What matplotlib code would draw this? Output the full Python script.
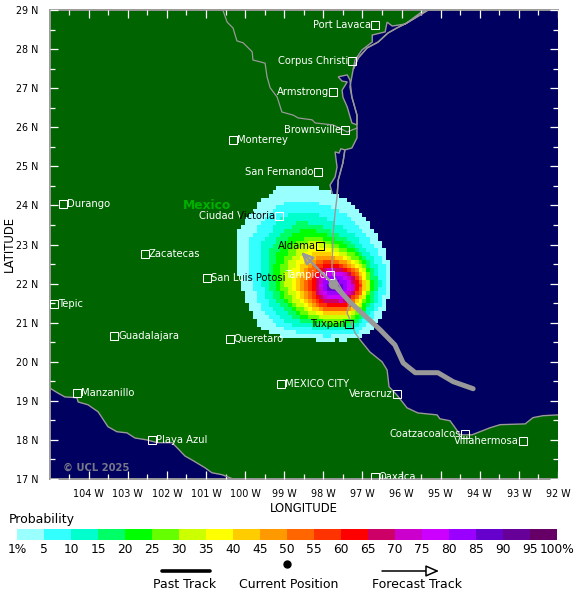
## Storm track probability map
import numpy as np
import matplotlib
matplotlib.use('Agg')
import matplotlib.pyplot as plt
from matplotlib.colors import ListedColormap, BoundaryNorm
from matplotlib.path import Path
from matplotlib.transforms import Bbox, TransformedBbox

## Probability scale
## =========================================== ##
PROB_BOUNDS    = [1, 5, 10, 15, 20, 25, 30, 35, 40, 45, 50, 55, 60, 65, 70, 75, 80, 85, 90, 95, 100]
PROB_LABELS    = ['1%', '5', '10', '15', '20', '25', '30', '35', '40', '45', '50', '55', '60', '65',
                  '70', '75', '80', '85', '90', '95', '100%']
PROB_COLORS    = ['#99ffff', '#33ffff', '#00ffcc', '#00ff66', '#00ff00', '#66ff00', '#ccff00', '#ffff00',
                  '#ffcc00', '#ff9900', '#ff6600', '#ff3300', '#ff0000', '#cc0066', '#cc00cc', '#cc00ff',
                  '#9900ff', '#6600cc', '#660099', '#660066']

## Probability contours, radius in degrees from the centre, read every 30 deg counter clockwise from east
## ====================================================================================================== ##
CONE_CENTER    = (-97.68, 21.89)
CONE_ANGLES    = [0, 30, 60, 90, 120, 150, 180, 210, 240, 270, 300, 330]
CONE_RADII     = {
    1:  [1.38, 1.53, 1.79, 2.43, 2.97, 2.87, 2.38, 2.15, 1.48, 1.33, 1.43, 1.36],
    5:  [1.25, 1.38, 1.53, 2.00, 2.56, 2.51, 2.10, 1.84, 1.33, 1.23, 1.28, 1.20],
    10: [1.13, 1.20, 1.28, 1.66, 2.25, 2.20, 1.87, 1.59, 1.20, 1.13, 1.13, 1.08],
    15: [1.05, 1.08, 1.13, 1.38, 1.94, 1.94, 1.69, 1.38, 1.10, 1.02, 1.02, 0.97],
    20: [0.95, 0.97, 1.02, 1.23, 1.74, 1.74, 1.53, 1.23, 1.00, 0.95, 0.95, 0.90],
    25: [0.90, 0.92, 0.95, 1.10, 1.53, 1.53, 1.41, 1.13, 0.92, 0.87, 0.87, 0.82],
    30: [0.84, 0.87, 0.87, 1.00, 1.38, 1.36, 1.28, 1.02, 0.84, 0.79, 0.82, 0.77],
    35: [0.82, 0.82, 0.79, 0.90, 1.23, 1.20, 1.13, 0.92, 0.77, 0.72, 0.77, 0.72],
    40: [0.77, 0.77, 0.74, 0.82, 1.08, 1.05, 1.00, 0.84, 0.72, 0.67, 0.72, 0.67],
    45: [0.72, 0.72, 0.69, 0.74, 0.95, 0.92, 0.90, 0.77, 0.67, 0.61, 0.67, 0.61],
    50: [0.69, 0.67, 0.64, 0.69, 0.82, 0.82, 0.79, 0.69, 0.61, 0.56, 0.61, 0.59],
    55: [0.64, 0.61, 0.59, 0.64, 0.74, 0.72, 0.69, 0.64, 0.56, 0.51, 0.56, 0.54],
    60: [0.59, 0.56, 0.54, 0.59, 0.67, 0.64, 0.61, 0.56, 0.51, 0.46, 0.51, 0.49],
    65: [0.54, 0.51, 0.49, 0.51, 0.59, 0.56, 0.54, 0.49, 0.44, 0.41, 0.46, 0.44],
    70: [0.46, 0.44, 0.44, 0.46, 0.51, 0.49, 0.46, 0.41, 0.36, 0.33, 0.38, 0.38],
    75: [0.41, 0.38, 0.38, 0.41, 0.44, 0.41, 0.38, 0.33, 0.31, 0.28, 0.33, 0.33],
    80: [0.33, 0.31, 0.31, 0.33, 0.36, 0.33, 0.31, 0.26, 0.23, 0.23, 0.26, 0.26],
    85: [0.23, 0.20, 0.18, 0.18, 0.20, 0.23, 0.20, 0.15, 0.13, 0.13, 0.15, 0.18],
}

## Coast lines
## =========================================== ##
GULF_LON       = [-95.32, -95.53, -95.86, -96.12, -96.35, -96.60, -96.88, -97.11, -97.24, -97.32, -97.27, -97.14,
                  -97.14, -97.27, -97.45, -97.50, -97.62, -97.65, -97.70, -97.75, -97.78, -97.75, -97.45, -97.32,
                  -97.39, -97.19, -97.06, -96.81, -96.50, -96.37, -96.32, -96.12, -95.86, -95.58, -95.09, -95.02,
                  -94.76, -94.63, -94.50, -94.20, -93.74, -93.48, -92.84, -92.64, -92.38, -92.00]
GULF_LAT       = [29.00, 28.87, 28.67, 28.54, 28.41, 28.18, 28.03, 27.77, 27.47, 27.03, 26.77, 26.31,
                  25.73, 25.47, 25.42, 25.09, 24.65, 24.22, 23.81, 23.30, 22.43, 22.22, 21.71, 21.51,
                  21.25, 20.74, 20.56, 20.25, 20.00, 19.79, 19.36, 19.15, 18.82, 18.69, 18.64, 18.54,
                  18.49, 18.31, 18.13, 18.13, 18.31, 18.39, 18.41, 18.57, 18.62, 18.64]
PACIFIC_LON    = [-105.00, -104.79, -104.61, -104.30, -104.27, -104.02, -103.76, -103.66, -103.51, -103.28, -103.02,
                  -102.82, -102.51, -102.25, -101.87, -101.74, -101.54, -101.33, -101.03, -100.85, -100.59, -100.46,
                  -100.31]
PACIFIC_LAT    = [19.33, 19.20, 19.10, 19.08, 18.97, 18.90, 18.72, 18.57, 18.34, 18.21, 18.18,
                  18.05, 18.00, 17.93, 17.93, 17.80, 17.59, 17.47, 17.29, 17.16, 17.11, 17.06,
                  17.00]
TEXAS_LAG_LON  = [-97.62, -97.39, -97.32, -97.27, -97.14, -97.14, -97.27, -97.39, -97.50, -97.52, -97.39, -97.52, -97.62]
TEXAS_LAG_LAT  = [27.29, 27.34, 27.21, 26.77, 26.31, 26.06, 26.11, 26.52, 26.77, 26.95, 27.16, 27.18, 27.29]
BAY_LON        = [-97.24, -97.19, -97.01, -96.75, -96.75, -96.42, -96.37, -96.24, -95.91, -95.53, -95.32,
                  -95.53, -95.86, -96.12, -96.35, -96.60, -96.88, -97.11, -97.24]
BAY_LAT        = [27.47, 27.72, 27.98, 28.18, 28.36, 28.44, 28.69, 28.59, 28.64, 28.92, 29.00,
                  28.87, 28.67, 28.54, 28.41, 28.18, 28.03, 27.77, 27.47]
TAMPS_LAG_LON  = [-97.70, -97.65, -97.70, -97.83, -97.75, -97.65, -97.62, -97.50, -97.45, -97.55, -97.60, -97.70]
TAMPS_LAG_LAT  = [25.37, 24.98, 24.73, 24.52, 24.22, 24.22, 24.65, 25.09, 25.42, 25.45, 25.34, 25.37]
RIVER_LON      = [-100.57, -100.46, -100.31, -100.21, -100.05, -99.82, -99.80, -99.49, -99.44, -99.36, -99.18,
                  -99.06, -98.77, -98.65, -98.29, -98.21, -97.75, -97.39, -97.14]
RIVER_LAT      = [29.00, 28.69, 28.54, 28.21, 28.16, 27.93, 27.72, 27.64, 27.29, 27.01, 26.77,
                  26.39, 26.31, 26.24, 26.19, 26.11, 26.06, 25.88, 25.98]

## Cities
## =========================================== ##
CITY_NAMES     = ['Port Lavaca', 'Corpus Christi', 'Armstrong', 'Brownsville', 'Monterrey', 'San Fernando',
                  'Ciudad Victoria', 'Aldama', 'Tampico', 'Tuxpan', 'Durango', 'Zacatecas', 'San Luis Potosi',
                  'Tepic', 'Guadalajara', 'Queretaro', 'MEXICO CITY', 'Manzanillo', 'Playa Azul', 'Veracruz',
                  'Coatzacoalcos', 'Villahermosa', 'Oaxaca']
CITY_LON       = [-96.68, -97.27, -97.75, -97.45, -100.31, -98.14, -99.13, -98.08, -97.83, -97.34, -104.66, -102.56,
                  -100.97, -104.89, -103.35, -100.39, -99.08, -104.30, -102.38, -96.12, -94.38, -92.89, -96.68]
CITY_LAT       = [28.62, 27.70, 26.90, 25.93, 25.68, 24.86, 23.73, 22.96, 22.22, 20.97, 24.04, 22.76,
                  22.15, 21.48, 20.66, 20.59, 19.43, 19.20, 18.00, 19.18, 18.16, 17.98, 17.06]
LABEL_LEFT     = ['Port Lavaca', 'Corpus Christi', 'Armstrong', 'Brownsville', 'San Fernando', 'Ciudad Victoria',
                  'Aldama', 'Tampico', 'Tuxpan', 'Veracruz', 'Coatzacoalcos', 'Villahermosa']
BLACK_CITIES   = ['Aldama', 'Tuxpan']
## These labels run into the cone, white on land and black on it, longitude of the change
SPLIT_CITIES   = {'Ciudad Victoria': -100.13, 'San Luis Potosi': -100.05}

## Track
## =========================================== ##
PAST_LON       = [-94.17, -94.68, -95.07, -95.65, -95.96, -96.17, -96.55, -97.32, -97.75]
PAST_LAT       = [19.31, 19.49, 19.72, 19.72, 19.97, 20.43, 20.82, 21.53, 21.99]
FORECAST_LON   = [-97.75, -98.57]
FORECAST_LAT   = [21.99, 22.81]

LON_TICKS      = list(range(-104, -91))
LAT_TICKS      = list(range(17, 30))

LAND           = '#006400'
SEA            = '#000060'
COAST          = '#999999'
TRACK          = '#999999'


## Close a contour in lon/lat
## =========================================== ##
def contour_path(radii):
    angles         = np.radians(CONE_ANGLES + [360])
    radii          = np.array(radii + [radii[0]])
    fine           = np.radians(np.arange(0, 361, 5))
    rad            = np.interp(fine, angles, radii)
    return Path(np.column_stack([CONE_CENTER[0] + rad*np.cos(fine), CONE_CENTER[1] + rad*np.sin(fine)]))


fig            = plt.figure(figsize=(5.8, 5.99), dpi=100)
ax             = fig.add_axes([49.6/580, 120/599, 508.4/580, 469/599])
ax.set_facecolor(LAND)
ax.set_xlim(-105, -92)
ax.set_ylim(17, 29)

## Sea and lagoons
## =========================================== ##
ax.fill(GULF_LON + [-92, -92], GULF_LAT + [17, 29], color=SEA, lw=0, zorder=1)
ax.fill(PACIFIC_LON + [-105], PACIFIC_LAT + [17], color=SEA, lw=0, zorder=1)
for lon, lat in [(TEXAS_LAG_LON, TEXAS_LAG_LAT), (BAY_LON, BAY_LAT), (TAMPS_LAG_LON, TAMPS_LAG_LAT)]:
    ax.fill(lon, lat, facecolor=SEA, edgecolor=COAST, lw=1, zorder=1)

## Probability cells
## =========================================== ##
xedges         = np.arange(-101.0, -95.45, 0.1)
yedges         = np.arange(19.0, 25.55, 0.1)
xcell, ycell   = np.meshgrid(xedges[:-1]+0.05, yedges[:-1]+0.05)
cells          = np.column_stack([xcell.ravel(), ycell.ravel()])
field          = np.full(xcell.shape, np.nan)
for level in CONE_RADII:
    inside     = contour_path(CONE_RADII[level]).contains_points(cells).reshape(xcell.shape)
    field[inside] = level
cmap           = ListedColormap(PROB_COLORS)
norm           = BoundaryNorm(PROB_BOUNDS, cmap.N)
ax.pcolormesh(xedges, yedges, np.ma.masked_invalid(field), cmap=cmap, norm=norm, zorder=2)

## Coast and border on top
## =========================================== ##
ax.plot(GULF_LON, GULF_LAT, color=COAST, lw=1, zorder=3)
ax.plot(PACIFIC_LON, PACIFIC_LAT, color=COAST, lw=1, zorder=3)
ax.plot(RIVER_LON, RIVER_LAT, color=COAST, lw=0.9, zorder=3)

## Cities
## =========================================== ##
for name, lon, lat in zip(CITY_NAMES, CITY_LON, CITY_LAT):
    color      = 'black' if name in BLACK_CITIES else 'white'
    ax.plot(lon, lat, 's', ms=5.2, mfc='none', mec=color, mew=0.75, zorder=5, clip_on=False)
    left       = name in LABEL_LEFT
    ha         = 'right' if left else 'left'
    offset     = -0.1 if left else 0.1
    label      = ax.text(lon+offset, lat, name, color=color, fontsize=7.2, ha=ha, va='center', zorder=5, clip_on=True)
    if name in SPLIT_CITIES:
        cut    = SPLIT_CITIES[name]
        label.set_clip_box(TransformedBbox(Bbox([[-105, 17], [cut, 29]]), ax.transData))
        over   = ax.text(lon+offset, lat, name, color='black', fontsize=7.2, ha=ha, va='center', zorder=5, clip_on=True)
        over.set_clip_box(TransformedBbox(Bbox([[cut, 17], [-92, 29]]), ax.transData))

ax.text(-100.97, 24.01, 'Mexico', color='#00b000', fontsize=8.8, fontweight='bold', ha='center', va='center', zorder=5)
ax.text(-104.67, 17.29, '\u00a9 UCL 2025', color='#777788', fontsize=7.2, fontweight='bold', ha='left', va='center', zorder=5)

## Track
## =========================================== ##
ax.plot(PAST_LON, PAST_LAT, color=TRACK, lw=3.6, solid_capstyle='round', solid_joinstyle='round', zorder=7)
ax.annotate('', xy=(FORECAST_LON[1], FORECAST_LAT[1]), xytext=(FORECAST_LON[0], FORECAST_LAT[0]),
            arrowprops=dict(arrowstyle='-|>,head_length=0.7,head_width=0.32', color=TRACK, fc='none', lw=1.8,
                            shrinkA=0, shrinkB=0), zorder=7)
ax.plot(FORECAST_LON[0], FORECAST_LAT[0], 'o', color=TRACK, ms=6, zorder=8)

## Axes
## =========================================== ##
ax.set_xticks(LON_TICKS)
ax.set_xticklabels(['%d W' % abs(t) for t in LON_TICKS], fontsize=6.9)
ax.set_yticks(LAT_TICKS)
ax.set_yticklabels(['%d N' % t for t in LAT_TICKS], fontsize=6.9)
ax.set_xticks(np.arange(-104.5, -92, 1), minor=True)
ax.set_yticks(np.arange(17.5, 29, 1), minor=True)
ax.tick_params(which='major', direction='in', length=6, width=0.9, color='white', top=True, right=True, pad=8, zorder=9)
ax.tick_params(which='minor', direction='in', length=3.5, width=0.9, color='white', top=True, right=True, zorder=9)
ax.tick_params(axis='x', which='major', pad=7)
ax.set_axisbelow(False)
for side in ['left', 'top', 'bottom']:
    ax.spines[side].set_color(COAST)
    ax.spines[side].set_linewidth(1.4)
ax.spines['right'].set_visible(False)
ax.set_xlabel('LONGITUDE', fontsize=8.4, labelpad=2)
ax.set_ylabel('LATITUDE', fontsize=8.4, labelpad=0)

## Colour bar
## =========================================== ##
cax            = fig.add_axes([17/580, (599-540)/599, 540/580, 11/599])
cax.pcolormesh(np.arange(21), [0, 1], [PROB_BOUNDS[:-1]], cmap=cmap, norm=norm)
cax.set_xticks(np.arange(21))
cax.set_xticklabels(PROB_LABELS, fontsize=8.8)
cax.set_yticks([])
cax.tick_params(axis='x', length=0, pad=2)
for spine in cax.spines.values():
    spine.set_visible(False)

## Legend, laid out in figure pixels
## =========================================== ##
lax            = fig.add_axes([0, 0, 1, 1])
lax.set_xlim(0, 580)
lax.set_ylim(599, 0)
lax.axis('off')
lax.patch.set_visible(False)
lax.text(9, 520, 'Probability', fontsize=9, ha='left', va='center')
lax.plot([162, 210], [571, 571], color='black', lw=2.6, solid_capstyle='round')
lax.text(185, 584, 'Past Track', fontsize=9, ha='center', va='center')
lax.plot(287, 564, 'o', color='black', ms=5)
lax.text(289, 584, 'Current Position', fontsize=9, ha='center', va='center')
lax.annotate('', xy=(439, 571), xytext=(382, 571),
             arrowprops=dict(arrowstyle='-|>,head_length=0.8,head_width=0.35', color='black', fc='white', lw=1.1,
                             shrinkA=0, shrinkB=0))
lax.text(417, 584, 'Forecast Track', fontsize=9, ha='center', va='center')

fig.savefig('out.png', dpi=100)
